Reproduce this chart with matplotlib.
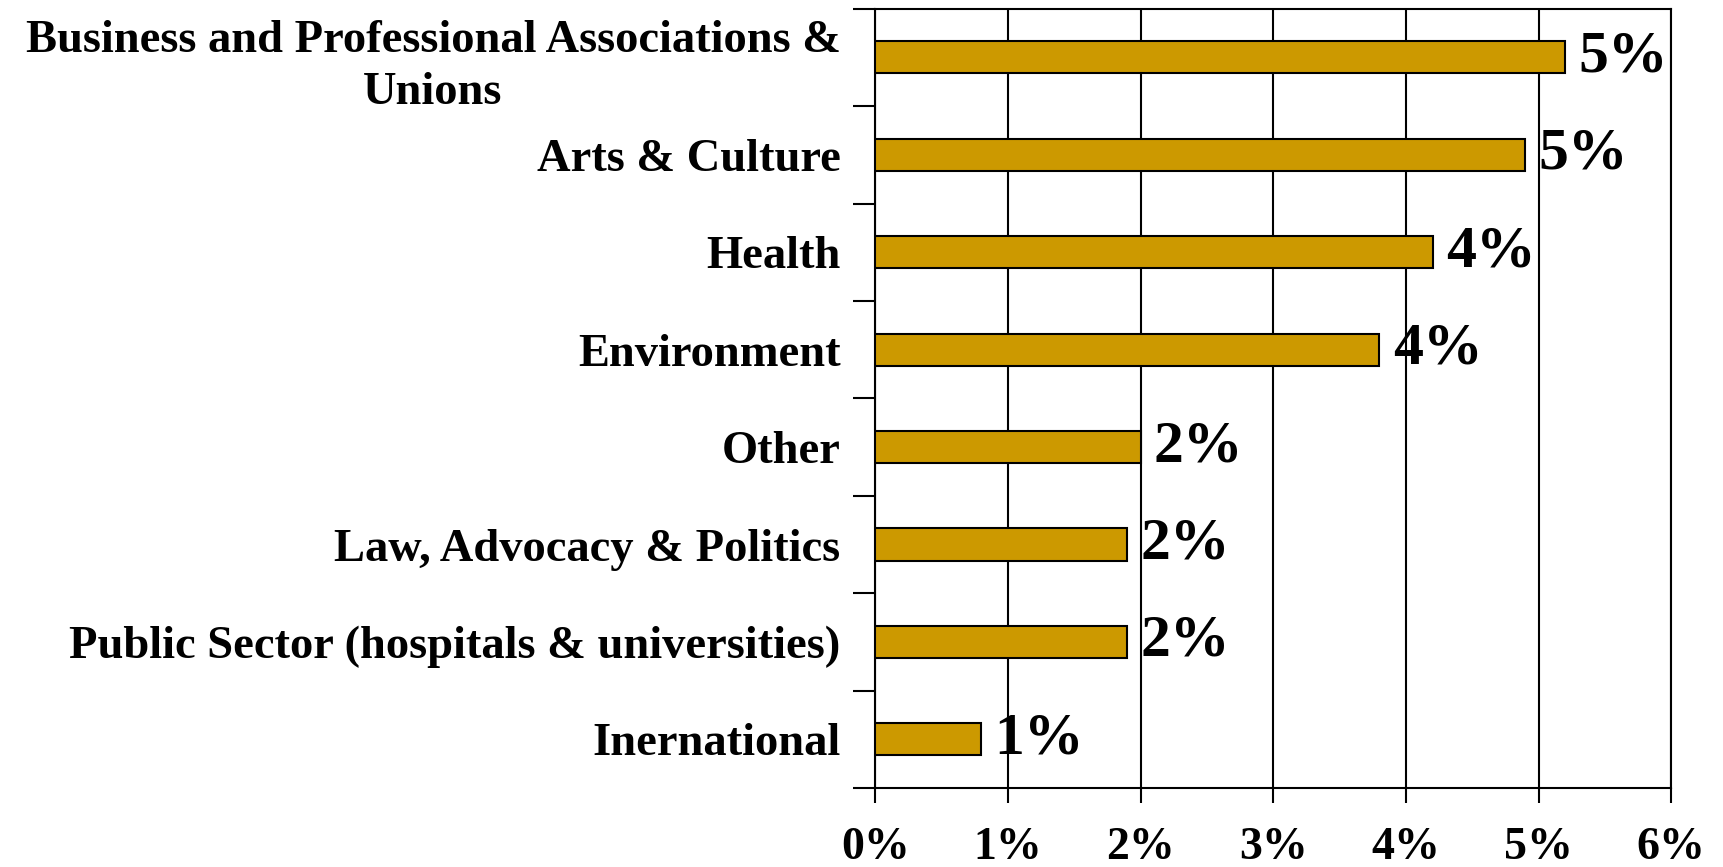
import numpy as np
import matplotlib
matplotlib.use("Agg")
from matplotlib import pyplot as plt
from matplotlib.ticker import FixedLocator

# data, top to bottom as shown
categories = [
    "Business and Professional Associations &\nUnions",
    "Arts & Culture",
    "Health",
    "Environment",
    "Other",
    "Law, Advocacy & Politics",
    "Public Sector (hospitals & universities)",
    "Inernational",
]
values = [5.2, 4.9, 4.2, 3.8, 2.0, 1.9, 1.9, 0.8]
value_labels = ["5%", "5%", "4%", "4%", "2%", "2%", "2%", "1%"]
xticks = [0, 1, 2, 3, 4, 5, 6]
xtick_labels = ["0%", "1%", "2%", "3%", "4%", "5%", "6%"]

BAR_COLOR = "#CC9900"
plt.rcParams['font.family'] = ['Liberation Serif', 'DejaVu Serif']
plt.rcParams['font.weight'] = 'bold'

fig = plt.figure(figsize=(17.23, 8.67), dpi=100)
ax = fig.add_axes([0.508, 0.091, 0.462, 0.899])

n = len(categories)
ypos = np.arange(n)[::-1]
ax.barh(ypos, values, height=0.33, color=BAR_COLOR, edgecolor="black", linewidth=1.5, zorder=3)

for y, v, lab in zip(ypos, values, value_labels):
    ax.text(v + 0.1, y, lab, va="center", ha="left", fontsize=43, fontweight="bold", zorder=4)

ax.set_xlim(0, 6)
ax.set_ylim(-0.5, n - 0.5)

ax.set_xticks(xticks)
ax.set_xticklabels(xtick_labels, fontsize=33, fontweight="bold")
ax.tick_params(axis="x", direction="out", length=11, width=1.5, pad=17)

ax.set_yticks(ypos)
ax.set_yticklabels(categories, fontsize=33.5, fontweight="bold")
ax.tick_params(axis="y", which="major", length=0, pad=25)
ax.yaxis.set_minor_locator(FixedLocator(np.arange(-0.5, n, 1.0)))
ax.tick_params(axis="y", which="minor", direction="out", length=16, width=1.5)
for t in ax.get_yticklabels():
    if "\n" in t.get_text():
        t.set_multialignment("center")
        t.set_linespacing(1.3)

ax.grid(axis="x", color="black", linewidth=1.5, zorder=0)
for s in ax.spines.values():
    s.set_linewidth(1.5)
    s.set_color("black")

fig.savefig("out.png", dpi=100)
